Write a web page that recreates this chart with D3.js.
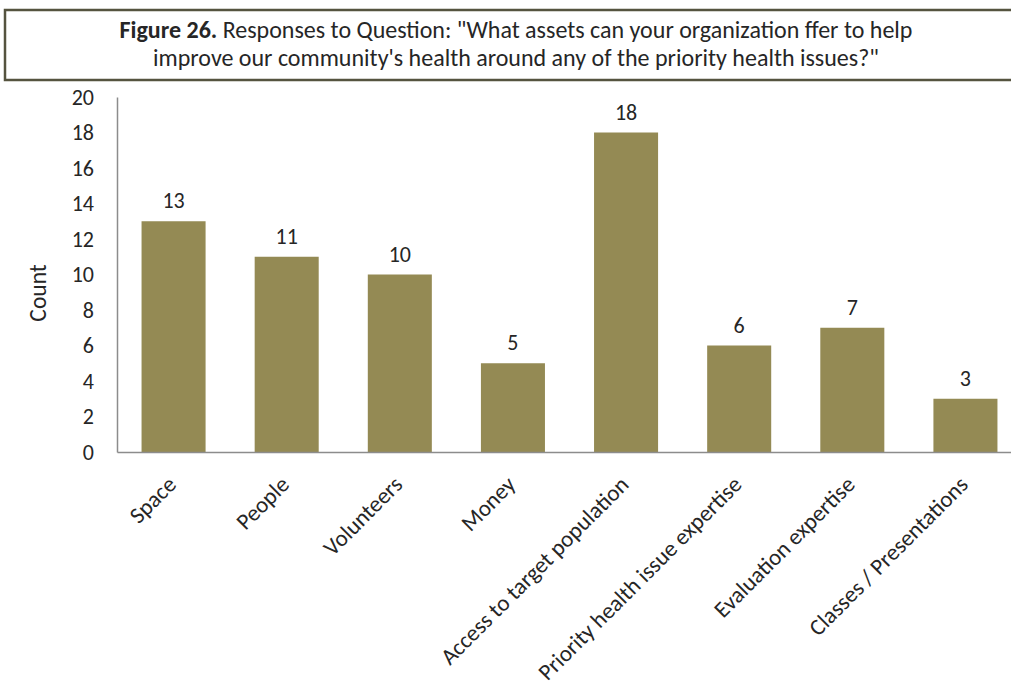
<!DOCTYPE html>
<html>
<head>
<meta charset="utf-8">
<script src="https://cdn.jsdelivr.net/npm/d3@7"></script>
<style>
  body { margin: 0; background: #fff; }
  svg text { font-family: Carlito, Calibri, Lato, sans-serif; fill: #262626; }
</style>
</head>
<body>
<svg id="chart" width="1011" height="686"></svg>
<script>
const categories = ["Space", "People", "Volunteers", "Money", "Access to target population",
    "Priority health issue expertise", "Evaluation expertise", "Classes / Presentations"];
const counts = [13, 11, 10, 5, 18, 6, 7, 3];
const yTicks = [0, 2, 4, 6, 8, 10, 12, 14, 16, 18, 20];

let svg = d3.select("#chart");

// title box
svg.append("rect")
    .attr("x", 5).attr("y", 10)
    .attr("width", 1010).attr("height", 70)
    .style("fill", "#fff")
    .style("stroke", "#55533f")
    .style("stroke-width", 2.5);

let t1 = svg.append("text")
    .attr("x", 516).attr("y", 38)
    .attr("text-anchor", "middle")
    .style("font-size", "24px");
t1.append("tspan").style("font-weight", "bold").text("Figure 26.");
t1.append("tspan").text(" Responses to Question: \"What assets can your organization ffer to help");
svg.append("text")
    .attr("x", 516).attr("y", 66)
    .attr("text-anchor", "middle")
    .style("font-size", "24px")
    .text("improve our community's health around any of the priority health issues?\"");

let x = d3.scaleBand()
    .domain(categories)
    .range([117, 1022])
    .paddingInner(0.434)
    .paddingOuter(0.217);

let y = d3.scaleLinear()
    .domain([0, 20])
    .range([452, 97]);

// bars
svg.selectAll("rect.bar")
    .data(counts)
    .enter().append("rect")
    .attr("class", "bar")
    .attr("x", (d, i) => x(categories[i]))
    .attr("y", d => y(d))
    .attr("width", x.bandwidth())
    .attr("height", d => y(0) - y(d))
    .style("fill", "#948a54");

// value labels
svg.selectAll("text.val")
    .data(counts)
    .enter().append("text")
    .attr("class", "val")
    .attr("x", (d, i) => x(categories[i]) + x.bandwidth() / 2)
    .attr("y", d => y(d) - 13)
    .attr("text-anchor", "middle")
    .style("font-size", "22px")
    .text(d => d);

// y axis
let yAxis = svg.append("g")
    .attr("transform", "translate(117,0)")
    .call(d3.axisLeft(y).tickValues(yTicks).tickSize(0).tickPadding(23));
yAxis.select(".domain").style("stroke", "#8c8c8c").style("stroke-width", 1.5);
yAxis.selectAll("text").style("font-size", "22px").attr("font-family", null);

// x axis
let xAxis = svg.append("g")
    .attr("transform", "translate(0,452)")
    .call(d3.axisBottom(x).tickSize(0).tickFormat(""));
xAxis.select(".domain").style("stroke", "#8c8c8c").style("stroke-width", 1.5);

svg.selectAll("text.cat")
    .data(categories)
    .enter().append("text")
    .attr("class", "cat")
    .attr("text-anchor", "end")
    .attr("transform", d => `translate(${x(d) + x.bandwidth() / 2 + 4},${486}) rotate(-45)`)
    .style("font-size", "23px")
    .text(d => d);

// y label
svg.append("text")
    .attr("transform", "translate(46,293) rotate(-90)")
    .attr("text-anchor", "middle")
    .style("font-size", "23.5px")
    .text("Count");
</script>
</body>
</html>
